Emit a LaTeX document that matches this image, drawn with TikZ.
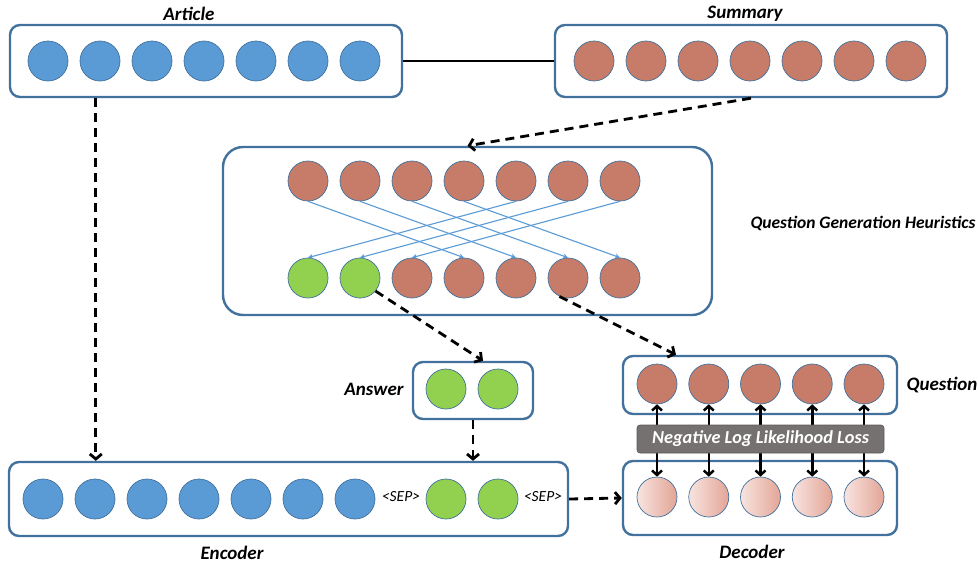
\documentclass[tikz,border=0pt]{standalone}
\usepackage{fontspec}
\setmainfont{Carlito}
\usetikzlibrary{arrows.meta,shapes.geometric}
\definecolor{bxline}{HTML}{41719C}
\definecolor{cblue}{HTML}{5B9BD5}
\definecolor{cbrown}{HTML}{C67C68}
\definecolor{cgreen}{HTML}{92D050}
\definecolor{cgray}{HTML}{767171}
\definecolor{pinkL}{HTML}{F8E4E0}
\definecolor{pinkR}{HTML}{E3A596}
\tikzset{
  panel/.style={draw=bxline, line width=2.4pt, rounded corners=10pt, fill=white, inner sep=0pt},
  tok/.style={circle, draw=bxline, line width=0.7pt, minimum size=40pt, inner sep=0pt},
  btok/.style={tok, fill=cblue},
  rtok/.style={tok, fill=cbrown},
  gtok/.style={tok, fill=cgreen},
  ptok/.style={tok, left color=pinkL, right color=pinkR},
  lbl/.style={font=\fontsize{19}{22}\selectfont\bfseries\itshape, inner sep=0pt},
  seplbl/.style={font=\fontsize{15.5}{18}\selectfont\itshape, inner sep=0pt},
  dasharrow/.style={line width=2.8pt, dash pattern=on 9pt off 6pt, -{Straight Barb[length=5pt,width=12pt]}},
  crossarrow/.style={draw=cblue, line width=1.1pt, -{Stealth[length=5pt,width=5pt]}},
  lossarrow/.style={line width=2.5pt, {Straight Barb[length=4.5pt,width=10pt]}-{Straight Barb[length=4.5pt,width=10pt]}}
}
\begin{document}
\begin{tikzpicture}[x=1pt,y=-1pt]
\useasboundingbox (0,0) rectangle (979,565);
% panels
\node[panel, minimum width=392pt, minimum height=72pt] (art) at (206,61) {};
\node[panel, minimum width=392pt, minimum height=72pt] (sum) at (751,61) {};
\node[panel, rounded corners=20pt, minimum width=489pt, minimum height=168pt] (qgh) at (467.5,231) {};
\node[panel, minimum width=120pt, minimum height=57pt] (ans) at (473,390.5) {};
\node[panel, minimum width=559pt, minimum height=74pt] (enc) at (288.5,499) {};
\node[panel, minimum width=274pt, minimum height=58pt] (que) at (760,385) {};
\node[panel, minimum width=274pt, minimum height=74pt] (dec) at (760,498) {};
% labels
\node[lbl] (lart) at (189,14) {Article};
\node[lbl] (lsum) at (745,14) {Summary};
\node[lbl, font=\fontsize{17.5}{21}\selectfont\bfseries\itshape] (lqgh) at (863,223) {Question Generation Heuristics};
\node[lbl] (lans) at (374,389) {Answer};
\node[lbl] (lque) at (942,385) {Question};
\node[lbl] (lenc) at (232,553) {Encoder};
\node[lbl] (ldec) at (752,552) {Decoder};
% tokens
\foreach \i in {1,...,7}{
  \node[btok] (a\i) at ({48+52*(\i-1)},61) {};
  \node[rtok] (s\i) at ({594+52*(\i-1)},61) {};
  \node[rtok] (qt\i) at ({308+52*(\i-1)},181) {};
  \node[btok] (e\i) at ({43+52*(\i-1)},499) {};
}
\node[gtok] (qb1) at (308,278) {};
\node[gtok] (qb2) at (360,278) {};
\foreach \i in {3,...,7}{
  \node[rtok] (qb\i) at ({308+52*(\i-1)},278) {};
}
\node[gtok] (an1) at (446,389) {};
\node[gtok] (an2) at (498,389) {};
\node[seplbl] (sep1) at (401,497) {<SEP>};
\node[gtok] (eg1) at (446,499) {};
\node[gtok] (eg2) at (498,499) {};
\node[seplbl] (sep2) at (543,497) {<SEP>};
\foreach \i in {1,...,5}{
  \node[rtok] (q\i) at ({657+51.75*(\i-1)},384) {};
  \node[ptok] (d\i) at ({657+51.75*(\i-1)},497) {};
}
% cross arrows
\draw[crossarrow] (qt1.south) -- (qb4.north);
\draw[crossarrow] (qt2.south) -- (qb5.north);
\draw[crossarrow] (qt3.south) -- (qb6.north);
\draw[crossarrow] (qt4.south) -- (qb7.north);
\draw[crossarrow] (qt5.south) -- (qb1.north);
\draw[crossarrow] (qt6.south) -- (qb2.north);
\draw[crossarrow] (qt7.south) -- (qb3.north);
% connectors
\draw[line width=2.2pt] (art.east) -- (sum.west);
\draw[dasharrow] (sum.south) -- (qgh.north);
\draw[dasharrow] ([xshift=87pt]art.south west) -- ([xshift=88pt]enc.north west);
\draw[dasharrow] (qb2.-40) -- ([xshift=10pt]ans.north);
\draw[dasharrow] (qb6.245) -- ([xshift=-84pt]que.north);
\draw[dasharrow] (ans.south) -- (ans.south |- enc.north);
\draw[dasharrow] (enc.east) -- (dec.west);
\foreach \i in {1,...,5}{
  \draw[lossarrow] (q\i.south) -- (d\i.north);
}
\node[draw=cgray!80!black, line width=0.6pt, fill=cgray, rounded corners=3pt, minimum width=247pt, minimum height=28pt, inner sep=0pt, text=white, font=\fontsize{18.3}{21}\selectfont\bfseries\itshape] (nll) at (760.5,439) {Negative Log Likelihood Loss};
\end{tikzpicture}
\end{document}
